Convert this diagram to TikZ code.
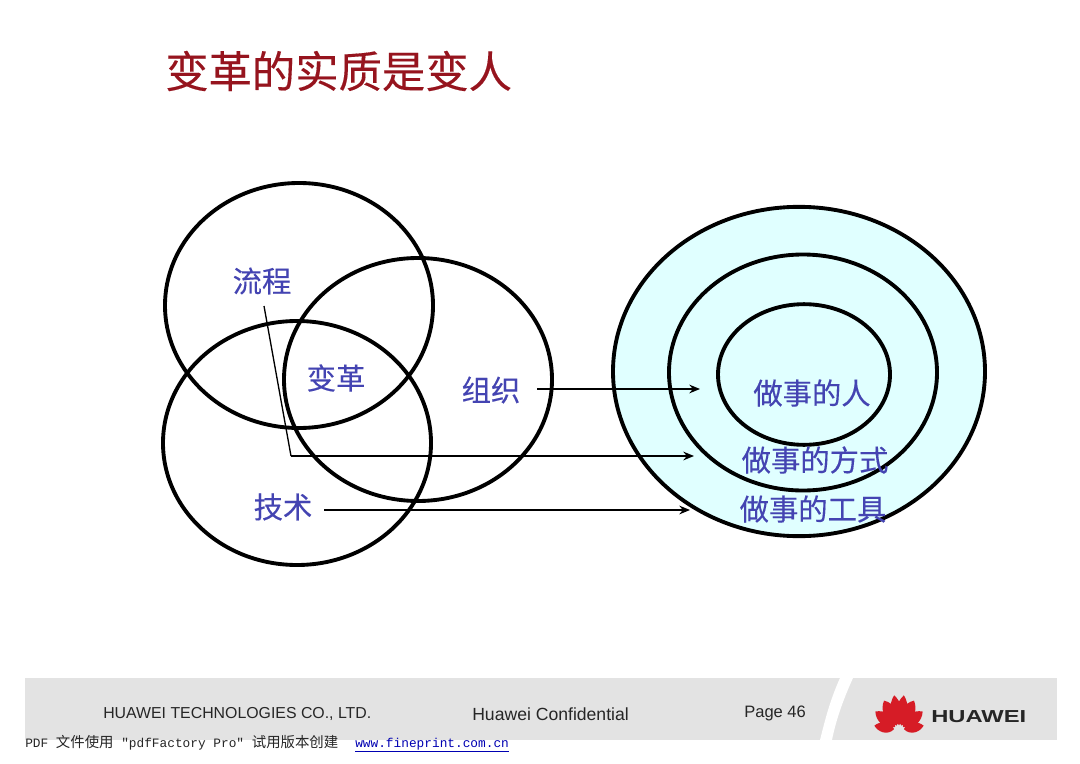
\documentclass[tikz,border=0pt]{standalone}
\usepackage{graphicx}
\usepackage{fontspec}
\setmainfont{Liberation Sans}
\setmonofont{Liberation Mono}
\newfontfamily\cjk{Noto Sans CJK SC}
\newfontfamily\cjkb[FakeBold=0.25]{Noto Sans CJK SC}
\usetikzlibrary{shapes.geometric,arrows.meta}
\definecolor{titlered}{RGB}{150,20,30}
\definecolor{labelblue}{RGB}{68,68,178}
\definecolor{band}{RGB}{227,227,227}
\definecolor{paleblue}{RGB}{224,255,255}
\definecolor{logored}{RGB}{214,28,38}
\tikzset{
  ring/.style={shape=ellipse,draw=black,line width=2.9pt,inner sep=0pt,outer sep=0pt},
  lbl/.style={inner sep=0pt,text=labelblue,font=\cjkb\fontsize{22}{24}\selectfont},
  arrowline/.style={draw=black,line width=1.5pt,-{Stealth[length=8pt,width=6.5pt]}},
  foot/.style={inner sep=0pt,anchor=west,text=black!85},
  pdfline/.style={inner sep=0pt,anchor=base west,font=\ttfamily\fontsize{9.6}{11}\selectfont},
  petal/.style={fill=logored,draw=none}
}
\begin{document}
\begin{tikzpicture}[x=0.75pt,y=-0.75pt]
\useasboundingbox (0,0) rectangle (1080,763);
\fill[white] (0,0) rectangle (1080,763);
% footer band
\fill[band] (25,678) rectangle (1057,740);
\fill[white] (840,678) .. controls (830,700) and (825,720) .. (820,740) -- (832,740) .. controls (836,720) and (843,700) .. (853,678) -- cycle;
% title
\node[inner sep=0pt,anchor=west,text=titlered,font=\cjkb\fontsize{32.5}{36}\selectfont] (title) at (165,71) {变革的实质是变人};
% Venn
\node[ring,minimum width=201pt,minimum height=183.75pt] (liu) at (299,305.5) {};
\node[ring,minimum width=201pt,minimum height=182.25pt] (zu) at (418,379.5) {};
\node[ring,minimum width=201pt,minimum height=183pt] (ji) at (297,443) {};
% concentric
\node[ring,fill=paleblue,minimum width=279pt,minimum height=247pt] (outer) at (799,371.5) {};
\node[ring,minimum width=201pt,minimum height=177pt] (middle) at (803,372.5) {};
\node[ring,minimum width=129pt,minimum height=105.5pt] (inner) at (804,374.5) {};
% labels
\node[lbl] (tliu) at (262,281) {流程};
\node[lbl] (tbian) at (336,378) {变革};
\node[lbl] (tzu) at (491,390) {组织};
\node[lbl] (tji) at (283,507) {技术};
\node[lbl] (tren) at (812,393) {做事的人};
\node[lbl] (tfs) at (815,460) {做事的方式};
\node[lbl] (tgj) at (813,509) {做事的工具};
% connectors
\coordinate (s1) at (537,389);
\coordinate (e1) at (700,389);
\draw[arrowline] (s1) -- (e1);
\coordinate (s2) at (264,306);
\coordinate (k2) at (291,456);
\coordinate (e2) at (694,456);
\draw[draw=black,line width=1pt] (s2) -- (k2);
\draw[arrowline] (k2) -- (e2);
\coordinate (s3) at (324,510);
\coordinate (e3) at (690,510);
\draw[arrowline] (s3) -- (e3);
% footer text
\node[foot,font=\fontsize{11.9}{14}\selectfont] (f1) at (103,714) {HUAWEI TECHNOLOGIES CO., LTD.};
\node[foot,font=\fontsize{13.2}{15}\selectfont] (f2) at (472,714) {Huawei Confidential};
\node[foot,font=\fontsize{12.4}{14}\selectfont] (f3) at (744,713) {Page 46};
% logo
\foreach \ang/\len/\wid in {-80/25/0.3,-52/30/0.3,-27/33/0.3,-8/35/0.23,8/35/0.23,27/33/0.3,52/30/0.3,80/25/0.3}{
  \begin{scope}[shift={(899,730)},rotate=\ang]
    \fill[petal] (0,-5) .. controls (-\wid*\len,-0.4*\len) and (-\wid*\len*0.8,-0.8*\len) .. (0,-\len)
      .. controls (\wid*\len*0.8,-0.8*\len) and (\wid*\len,-0.4*\len) .. (0,-5) -- cycle;
  \end{scope}
}
\node[inner sep=0pt,anchor=west,text=black!85,font=\bfseries\fontsize{13}{14}\selectfont] (logo) at (931,716.5) {\scalebox{1.37}[1]{HUAWEI}};
% pdf line
\node[pdfline,text=black!85] (pdf) at (25,747) {PDF {\cjk\fontsize{10.8}{11}\selectfont 文件使用} "pdfFactory Pro" {\cjk\fontsize{10.8}{11}\selectfont 试用版本创建}};
\node[pdfline,text=blue!70!black] (link) at (355,747) {\underline{www.fineprint.com.cn}};
\end{tikzpicture}
\end{document}
